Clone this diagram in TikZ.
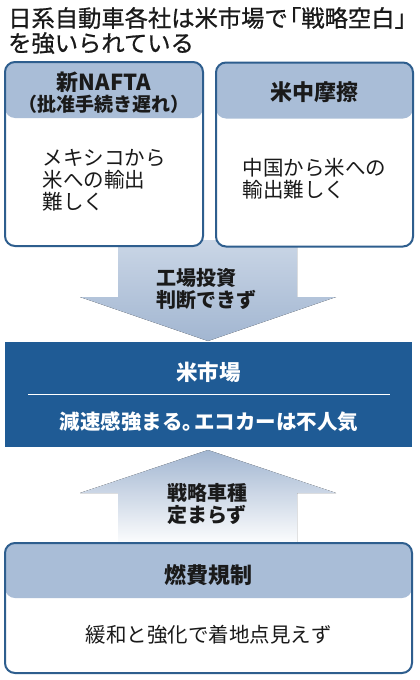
\documentclass[tikz,border=0pt]{standalone}
\usepackage{fontspec}
\setmainfont{Noto Sans CJK JP}
\newfontfamily\titlefont[FakeBold=0.8]{Noto Sans CJK JP}
\usetikzlibrary{positioning}
\definecolor{ink}{HTML}{1A1A1A}
\definecolor{frame}{HTML}{2E5E8E}
\definecolor{band}{HTML}{A9BDD7}
\definecolor{market}{HTML}{1F5B95}
\definecolor{armdark}{HTML}{A2B6D1}
\definecolor{armlight}{HTML}{CAD6E6}

\begin{document}
\begin{tikzpicture}[x=1pt, y=-1pt,
  box/.style={draw=frame, line width=2pt, rounded corners=10pt, fill=white, inner sep=0pt},
  head/.style={path picture={\fill[band] (path picture bounding box.north west)
               rectangle ([yshift=-#1]path picture bounding box.north east);}},
  hd/.style={font=\fontsize{20}{22}\selectfont\bfseries, text=ink, align=center, inner sep=0pt},
  txt/.style={font=\fontsize{20.5}{22}\selectfont, text=ink, align=left, inner sep=0pt},
]
\useasboundingbox[fill=white] (0,0) rectangle (420,680);
\node[anchor=west, font=\fontsize{23.3}{25}\selectfont\titlefont, text=ink, align=left, inner sep=0pt]
  (title) at (8,30.5) {日系自動車各社は米市場で\hspace{-0.42em}「戦略空白」\hspace{-0.42em}\\を強いられている};

\fill[top color=armlight, bottom color=armdark]
  (118,240) -- (297,240) -- (297,297) -- (336,297) -- (208,341) -- (80,297) -- (118,297) -- cycle;
\fill[top color=armdark, middle color=armdark!85!white, bottom color=white]
  (208,450) -- (336,493) -- (297,493) -- (297,546) -- (118,546) -- (118,493) -- (80,493) -- cycle;

\node[box, head=56pt, minimum width=198pt, minimum height=184pt] (nafta) at (104,154) {};
\node[box, head=56pt, minimum width=197pt, minimum height=184pt] (friction) at (314.5,154.5) {};
\node[fill=market, inner sep=0pt, minimum width=407pt, minimum height=105pt] (market) at (208.5,394.5) {};
\node[box, head=55pt, minimum width=407pt, minimum height=130pt] (fuel) at (208.5,608) {};
\draw[white, line width=1.2pt] ([xshift=23pt]market.west) -- ([xshift=-22pt]market.east);

\node[hd, font=\fontsize{19}{21}\selectfont\bfseries] (naftahd) at (104,92.5)
  {{\fontsize{22}{21}\selectfont 新NAFTA}\\（批准手続き遅れ）};
\node[txt] (naftatx) at (104,180) {メキシコから\\米への輸出\\難しく};
\node[hd, font=\fontsize{22}{24}\selectfont\bfseries] (frichd) at (314.5,92) {米中摩擦};
\node[txt] (frictx) at (314.5,179) {中国から米への\\輸出難しく};
\node[hd, align=left] (invest) at (206,289) {工場投資\\判断できず};
\node[hd, text=white, font=\fontsize{21.5}{23}\selectfont\bfseries] (markethd) at (208.5,372) {米市場};
\node[hd, text=white, font=\fontsize{20.5}{22}\selectfont\bfseries] (markettx) at (209,422)
  {減速感強まる。\hspace{-0.45em}エコカーは不人気};
\node[hd, align=left] (models) at (207,504) {戦略車種\\定まらず};
\node[hd, font=\fontsize{22}{24}\selectfont\bfseries] (fuelhd) at (208.5,575) {燃費規制};
\node[txt] (fueltx) at (208.5,635) {緩和と強化で着地点見えず};
\end{tikzpicture}
\end{document}
